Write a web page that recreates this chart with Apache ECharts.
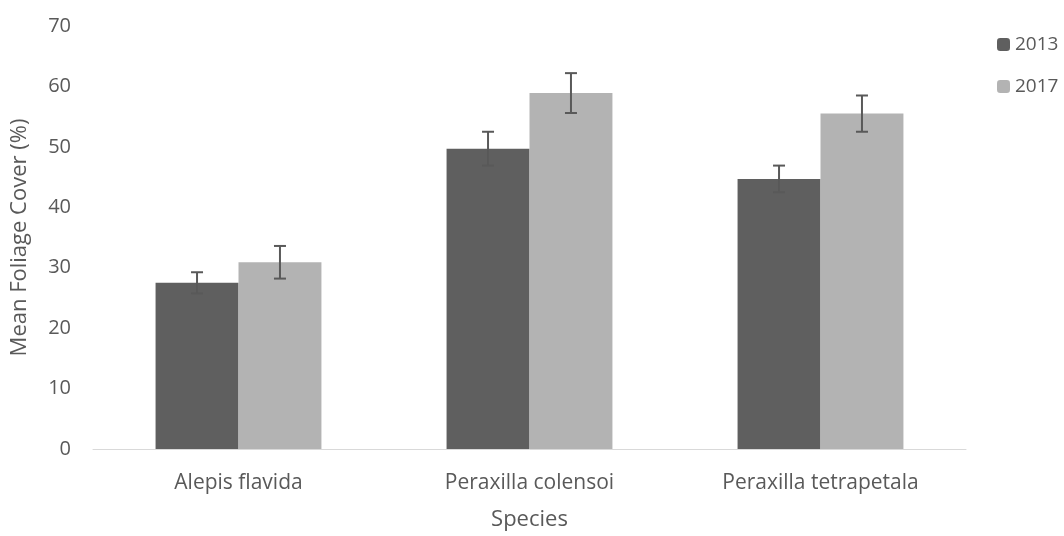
<!DOCTYPE html>
<html><head><meta charset="utf-8">
<script src="https://cdn.jsdelivr.net/npm/echarts@6/dist/echarts.min.js"></script>
<style>html,body{margin:0;padding:0;background:#fff}#c{width:1064px;height:536px}</style>
</head><body><div id="c"></div>
<script>
const categories = ['Alepis flavida', 'Peraxilla colensoi', 'Peraxilla tetrapetala'];
const mean2013 = [27.5, 49.7, 44.7];
const mean2017 = [30.9, 58.9, 55.5];
const err2013 = [1.75, 2.8, 2.2];
const err2017 = [2.7, 3.3, 3.0];
const yTicks = [0, 10, 20, 30, 40, 50, 60, 70];

const CAT_GAP = 0.43;
const font = 'Open Sans, Liberation Sans, sans-serif';
const txt = '#595959';

function errSeries(name, means, errs, side) {
  return {
    type: 'custom', name: name + ' err', silent: true, z: 5,
    data: means.map((m, i) => [i, m - errs[i], m + errs[i]]),
    renderItem: function (params, api) {
      const band = api.size([1, 0])[0];
      const bw = band * (1 - CAT_GAP) / 2;
      const lo = api.coord([api.value(0), api.value(1)]);
      const hi = api.coord([api.value(0), api.value(2)]);
      const x = lo[0] + side * bw / 2;
      const cap = 6;
      const st = { stroke: '#595959', lineWidth: 2 };
      return { type: 'group', children: [
        { type: 'line', shape: { x1: x, y1: lo[1], x2: x, y2: hi[1] }, style: st },
        { type: 'line', shape: { x1: x - cap, y1: lo[1], x2: x + cap, y2: lo[1] }, style: st },
        { type: 'line', shape: { x1: x - cap, y1: hi[1], x2: x + cap, y2: hi[1] }, style: st }
      ]};
    }
  };
}

const chart = echarts.init(document.getElementById('c'));
chart.setOption({
  animation: false,
  textStyle: { fontFamily: font },
  grid: { left: 93, right: 98, top: 26, bottom: 85 },
  legend: {
    orient: 'vertical', left: 992, top: 30, itemWidth: 13, itemHeight: 13, itemGap: 23,
    data: ['2013', '2017'],
    textStyle: { color: txt, fontSize: 19, fontFamily: font }
  },
  xAxis: {
    type: 'category', data: categories,
    name: 'Species', nameLocation: 'middle', nameGap: 60,
    nameTextStyle: { color: txt, fontSize: 22, fontFamily: font },
    axisLine: { lineStyle: { color: '#d9d9d9', width: 1 } },
    axisTick: { show: false },
    axisLabel: { color: txt, fontSize: 21, margin: 24, fontFamily: font }
  },
  yAxis: {
    type: 'value', min: yTicks[0], max: yTicks[yTicks.length - 1], interval: 10,
    name: 'Mean Foliage Cover (%)', nameLocation: 'middle', nameGap: 62,
    nameTextStyle: { color: txt, fontSize: 22, fontFamily: font },
    axisLine: { show: false }, axisTick: { show: false }, splitLine: { show: false },
    axisLabel: { color: txt, fontSize: 20, margin: 22, fontFamily: font }
  },
  series: [
    { type: 'bar', name: '2013', data: mean2013, barGap: '0%', barCategoryGap: (CAT_GAP * 100) + '%',
      itemStyle: { color: '#5f5f5f' } },
    { type: 'bar', name: '2017', data: mean2017, barGap: '0%', barCategoryGap: (CAT_GAP * 100) + '%',
      itemStyle: { color: '#b3b3b3' } },
    errSeries('2013', mean2013, err2013, -1),
    errSeries('2017', mean2017, err2017, 1)
  ]
});
</script></body></html>
